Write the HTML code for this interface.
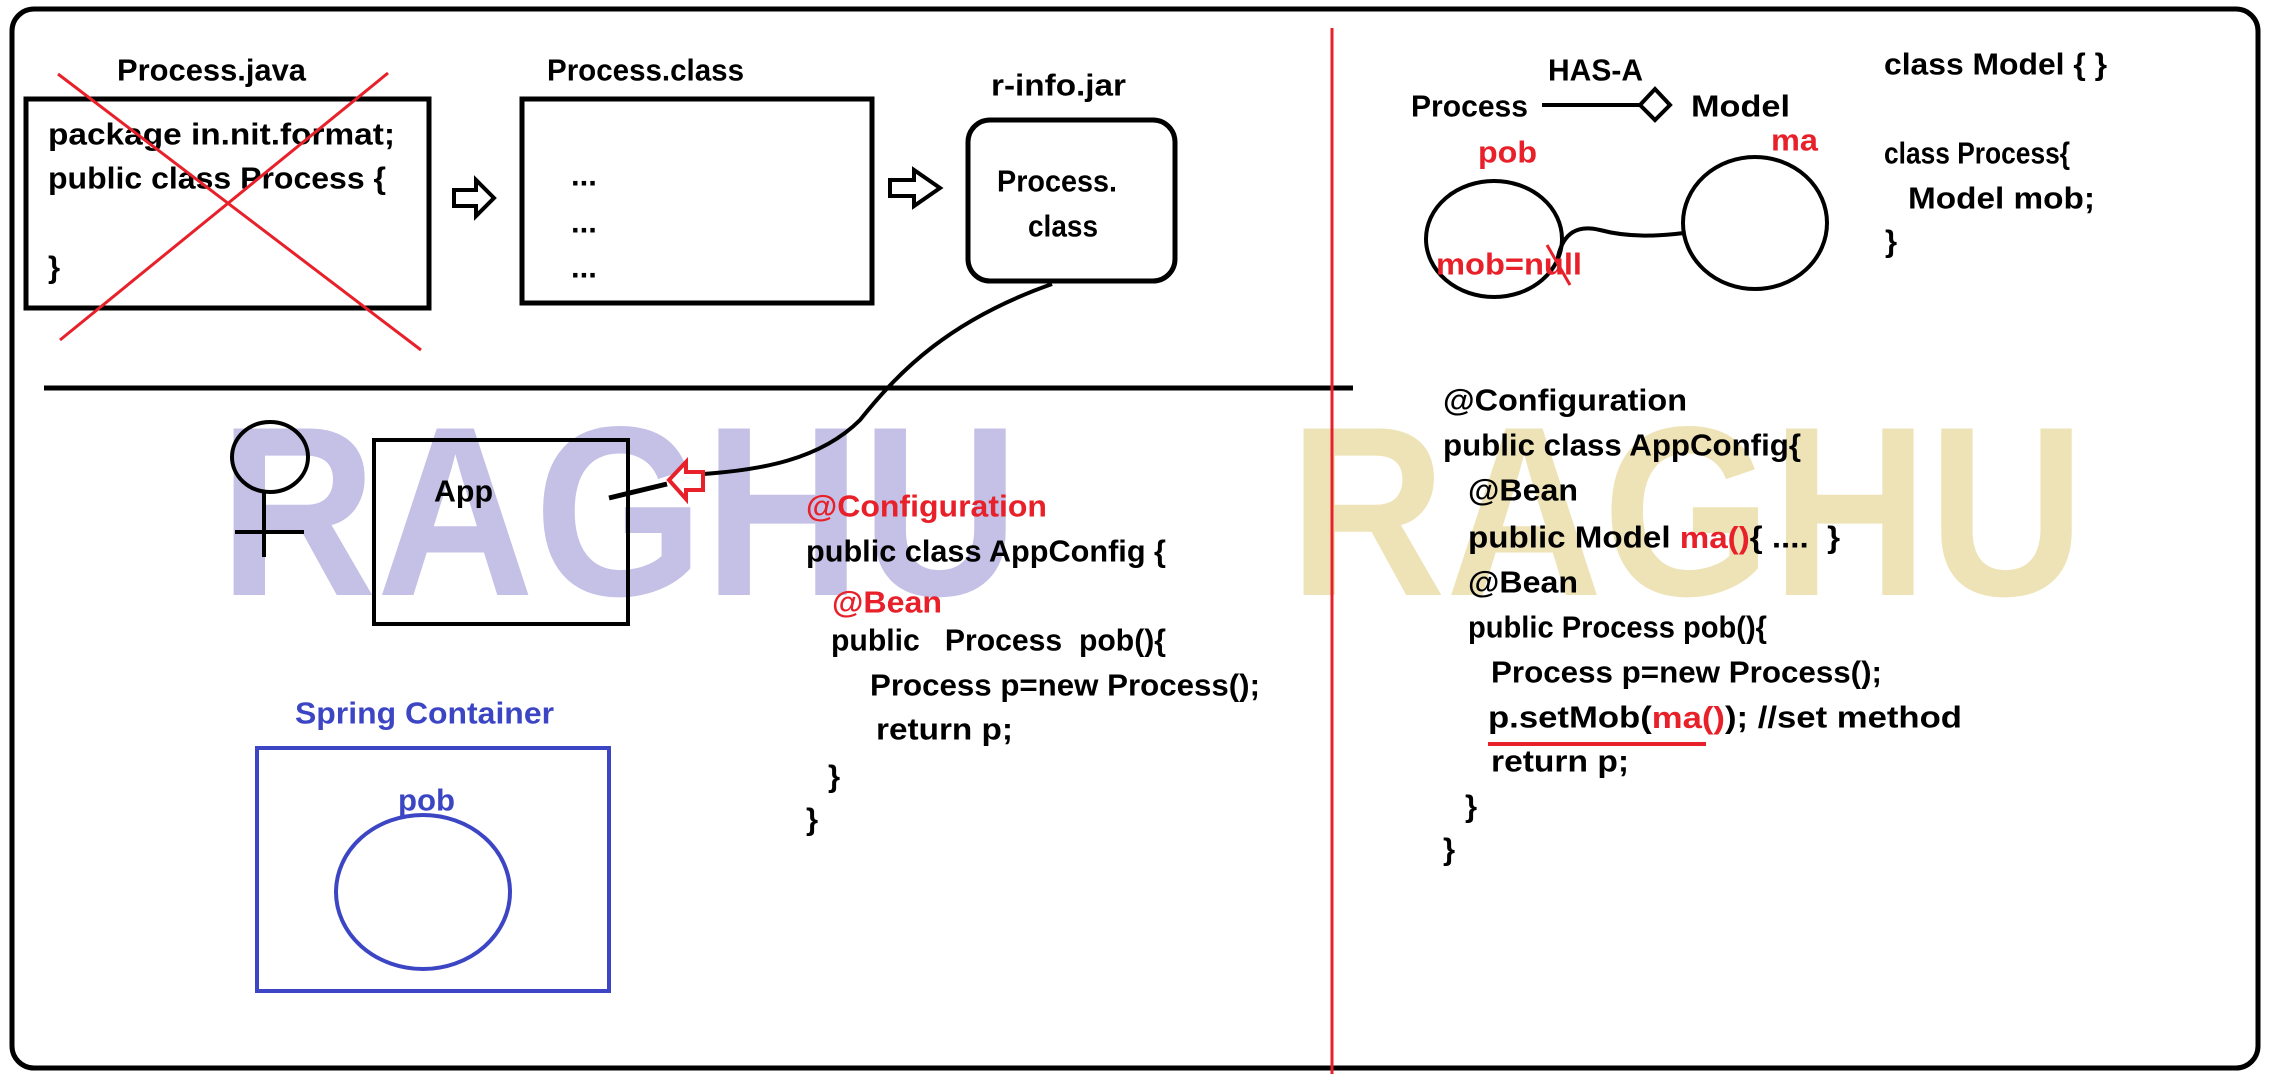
<!DOCTYPE html>
<html><head><meta charset="utf-8"><style>
html,body{margin:0;padding:0;background:#fff;}
svg{display:block;}
text{font-family:"Liberation Sans",sans-serif;font-weight:bold;font-size:31px;dominant-baseline:central;}
.r{fill:#e8202a;}
.b{fill:#3c46c4;}
</style></head><body>
<svg width="2274" height="1074" viewBox="0 0 2274 1074" xmlns="http://www.w3.org/2000/svg">
<!-- watermarks -->
<text x="219" y="512" textLength="800" lengthAdjust="spacingAndGlyphs" style="font-size:242px;font-weight:bold;fill:#c4c0e6">RAGHU</text>
<text x="1289" y="512" textLength="796" lengthAdjust="spacingAndGlyphs" style="font-size:242px;font-weight:bold;fill:#eee3b6">RAGHU</text>

<!-- outer frame -->
<rect x="12" y="9" width="2246" height="1059" rx="22" fill="none" stroke="#000" stroke-width="5"/>
<line x1="44" y1="388" x2="1353" y2="388" stroke="#000" stroke-width="5"/>

<!-- Process.java -->
<text x="117" y="70" textLength="189" lengthAdjust="spacingAndGlyphs">Process.java</text>
<rect x="26" y="99" width="403" height="209" fill="none" stroke="#000" stroke-width="5"/>
<text x="48" y="134" textLength="347" lengthAdjust="spacingAndGlyphs">package in.nit.format;</text>
<text x="48" y="178" textLength="338" lengthAdjust="spacingAndGlyphs">public class Process {</text>
<text x="48" y="267">}</text>
<line x1="58" y1="74" x2="421" y2="350" stroke="#e8202a" stroke-width="3"/>
<line x1="388" y1="73" x2="60" y2="340" stroke="#e8202a" stroke-width="3"/>

<!-- arrow 1 -->
<polygon points="454,190 476,190 476,180 494,198 476,216 476,206 454,206" fill="#fff" stroke="#000" stroke-width="4"/>

<!-- Process.class -->
<text x="547" y="70" textLength="197" lengthAdjust="spacingAndGlyphs">Process.class</text>
<rect x="522" y="99" width="350" height="204" fill="none" stroke="#000" stroke-width="5"/>
<text x="571" y="175">...</text>
<text x="571" y="222">...</text>
<text x="571" y="267">...</text>

<!-- arrow 2 -->
<polygon points="890,180 914,180 914,170 940,188 914,206 914,196 890,196" fill="#fff" stroke="#000" stroke-width="4"/>

<!-- r-info.jar -->
<text x="991" y="85" textLength="135" lengthAdjust="spacingAndGlyphs">r-info.jar</text>
<rect x="968" y="120" width="207" height="161" rx="22" fill="none" stroke="#000" stroke-width="5"/>
<text x="997" y="181" textLength="120" lengthAdjust="spacingAndGlyphs">Process.</text>
<text x="1028" y="226" textLength="70" lengthAdjust="spacingAndGlyphs">class</text>

<!-- connector curve -->
<path d="M1052,284 C950,320 900,370 860,420 C820,460 760,470 703,474" fill="none" stroke="#000" stroke-width="4"/>
<line x1="667" y1="484" x2="609" y2="498" stroke="#000" stroke-width="5"/>
<polygon points="669,480 686,462 686,472 703,472 703,490 686,490 686,499" fill="#fff" stroke="#e8202a" stroke-width="4"/>

<!-- actor -->
<ellipse cx="270" cy="457" rx="38" ry="35" fill="none" stroke="#000" stroke-width="4"/>
<line x1="264" y1="492" x2="264" y2="557" stroke="#000" stroke-width="4"/>
<line x1="235" y1="532" x2="304" y2="532" stroke="#000" stroke-width="4"/>

<!-- App box -->
<rect x="374" y="440" width="254" height="184" fill="none" stroke="#000" stroke-width="4"/>
<text x="434" y="491" textLength="59" lengthAdjust="spacingAndGlyphs">App</text>

<!-- left code -->
<text class="r" x="806" y="506" textLength="241" lengthAdjust="spacingAndGlyphs">@Configuration</text>
<text x="806" y="551" textLength="360" lengthAdjust="spacingAndGlyphs">public class AppConfig {</text>
<text class="r" x="832" y="602" textLength="110" lengthAdjust="spacingAndGlyphs">@Bean</text>
<text x="831" y="640" textLength="335" lengthAdjust="spacingAndGlyphs" xml:space="preserve">public   Process  pob(){</text>
<text x="870" y="685" textLength="390" lengthAdjust="spacingAndGlyphs">Process p=new Process();</text>
<text x="876" y="729" textLength="137" lengthAdjust="spacingAndGlyphs">return p;</text>
<text x="828" y="776">}</text>
<text x="806" y="819">}</text>

<!-- Spring container -->
<text class="b" x="295" y="713" textLength="259" lengthAdjust="spacingAndGlyphs">Spring Container</text>
<rect x="257" y="748" width="352" height="243" fill="none" stroke="#3c46c4" stroke-width="4"/>
<text class="b" x="398" y="800" textLength="57" lengthAdjust="spacingAndGlyphs">pob</text>
<ellipse cx="423" cy="892" rx="87" ry="77" fill="none" stroke="#3c46c4" stroke-width="4"/>

<!-- red divider -->
<line x1="1332" y1="28" x2="1332" y2="1074" stroke="#e8202a" stroke-width="3"/>

<!-- HAS-A -->
<text x="1411" y="106" textLength="117" lengthAdjust="spacingAndGlyphs">Process</text>
<text x="1548" y="70" textLength="95" lengthAdjust="spacingAndGlyphs">HAS-A</text>
<line x1="1542" y1="105" x2="1640" y2="105" stroke="#000" stroke-width="4"/>
<polygon points="1640,105 1655,89 1670,105 1655,120" fill="#fff" stroke="#000" stroke-width="4"/>
<text x="1691" y="106" textLength="99" lengthAdjust="spacingAndGlyphs">Model</text>
<text class="r" x="1478" y="152" textLength="59" lengthAdjust="spacingAndGlyphs">pob</text>
<text class="r" x="1771" y="140" textLength="47" lengthAdjust="spacingAndGlyphs">ma</text>
<ellipse cx="1494" cy="239" rx="68" ry="58" fill="none" stroke="#000" stroke-width="4"/>
<ellipse cx="1755" cy="223" rx="72" ry="66" fill="none" stroke="#000" stroke-width="4"/>
<path d="M1557,262 C1562,230 1580,225 1600,230 C1630,238 1660,236 1684,233" fill="none" stroke="#000" stroke-width="4"/>
<text class="r" x="1436" y="264" textLength="146" lengthAdjust="spacingAndGlyphs">mob=null</text>
<line x1="1547" y1="245" x2="1570" y2="285" stroke="#e8202a" stroke-width="3"/>

<text x="1884" y="64" textLength="223" lengthAdjust="spacingAndGlyphs">class Model { }</text>
<text x="1884" y="153" textLength="186" lengthAdjust="spacingAndGlyphs">class Process{</text>
<text x="1908" y="198" textLength="187" lengthAdjust="spacingAndGlyphs">Model mob;</text>
<text x="1885" y="241">}</text>

<!-- right code -->
<text x="1443" y="400" textLength="244" lengthAdjust="spacingAndGlyphs">@Configuration</text>
<text x="1443" y="445" textLength="358" lengthAdjust="spacingAndGlyphs">public class AppConfig{</text>
<text x="1468" y="490" textLength="110" lengthAdjust="spacingAndGlyphs">@Bean</text>
<text x="1468" y="537" textLength="372" lengthAdjust="spacingAndGlyphs" xml:space="preserve">public Model <tspan class="r">ma()</tspan>{ ....  }</text>
<text x="1468" y="582" textLength="110" lengthAdjust="spacingAndGlyphs">@Bean</text>
<text x="1468" y="627" textLength="299" lengthAdjust="spacingAndGlyphs">public Process pob(){</text>
<text x="1491" y="672" textLength="391" lengthAdjust="spacingAndGlyphs">Process p=new Process();</text>
<text x="1488" y="717" textLength="474" lengthAdjust="spacingAndGlyphs">p.setMob(<tspan class="r">ma()</tspan>); //set method</text>
<line x1="1488" y1="744" x2="1706" y2="744" stroke="#e8202a" stroke-width="4"/>
<text x="1491" y="761" textLength="138" lengthAdjust="spacingAndGlyphs">return p;</text>
<text x="1465" y="806">}</text>
<text x="1443" y="849">}</text>
</svg>
</body></html>
